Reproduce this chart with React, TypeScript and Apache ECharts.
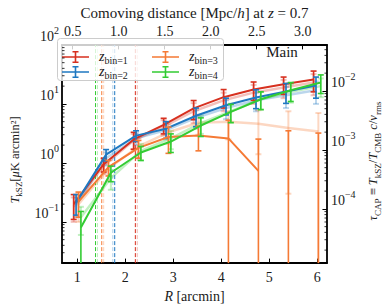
import React, { useEffect, useRef } from "react";
import * as echarts from "echarts";

// ---------- data ----------
const R_BINS = [1, 1.625, 2.25, 2.875, 3.5, 4.125, 4.75, 5.375, 6];

const BIN1 = [0.2, 0.95, 2.5, 4.4, 8.4, 13, 17.5, 21.5, 26];
const BIN1_ERR = [0.09, 0.25, 0.8, 1.3, 3, 4.5, 6, 7, 10];
const BIN2 = [0.21, 1.38, 2.9, 3.8, 6.3, 9.5, 12.8, 16.2, 20.5];
const BIN2_ERR = [0.08, 0.3, 0.6, 1.2, 2.2, 3, 4.5, 6, 8];
const BIN3 = [0.22, 0.85, 1.8, 2.75, 2.9, 2.6, 0.73, -0.4, -0.4];
const BIN3_ERR = [0.1, 0.25, 0.6, 1.3, 1.3, 2.7, 1.8, 3.9, 3.6];
const BIN4 = [0.08, 0.68, 1.5, 2.3, 4.3, 7.3, 12, 17, 23];
const BIN4_ERR = [0.07, 0.2, 0.4, 0.8, 1.5, 2.5, 4, 6, 8];

// faint (alternative sample) versions
const BIN1_ALT = [0.18, 0.9, 2.4, 4.1, 7.5, 11.5, 15.5, 19, 23];
const BIN1_ALT_ERR = [0.08, 0.25, 0.7, 1.2, 2.8, 4, 5.5, 6.5, 9];
const BIN2_ALT = [0.19, 1.2, 2.6, 3.6, 5.8, 8.5, 11.5, 14, 17];
const BIN2_ALT_ERR = [0.07, 0.3, 0.6, 1.1, 2, 3, 4, 5.5, 7];
const BIN3_ALT = [0.2, 0.8, 1.9, 3.3, 4.8, 5.0, 4.6, 3.9, 3.4];
const BIN3_ALT_ERR = [0.1, 0.3, 0.7, 1.2, 1.8, 2.5, 3.2, 3.6, 3.6];
const BIN4_ALT = [0.12, 0.55, 1.6, 2.6, 4.7, 7.5, 12, 16, 20];
const BIN4_ALT_ERR = [0.06, 0.2, 0.5, 0.9, 1.6, 2.6, 4, 5.5, 7];

// angular scale cuts (dashed lines), main and alternative
const CUT_MAIN = [2.21, 1.78, 1.51, 1.38];
const CUT_ALT = [2.25, 1.74, 1.55, 1.42];

const LEGEND_NAMES = ["bin1", "bin2", "bin3", "bin4"];
const LEGEND_LABELS = ["1", "2", "3", "4"];
const COLORS = ["#d7301f", "#1f78c1", "#f57a35", "#33cc33"];
const DODGE = [-0.075, -0.025, 0.025, 0.075];

const X_TICKS = [1, 2, 3, 4, 5, 6];
const TOP_TICKS = [0.5, 1.0, 1.5, 2.0, 2.5, 3.0];

// ---------- axis limits ----------
const R_MIN = 0.682;
const R_MAX = 6.204;
const D_MIN = 0.384;
const D_MAX = 3.264;
const T_MIN = 0.02;
const T_MAX = 100;
const TAU_FACTOR = 1660; // T_kSZ [muK arcmin^2] per unit tau

const FONT = "Liberation Serif";
const TXT = "#1a1a1a";

const minorLog = (lo: number, hi: number) => {
  const out: number[] = [];
  for (let d = Math.floor(Math.log10(lo)) - 1; d <= Math.ceil(Math.log10(hi)); d++) {
    for (let m = 2; m <= 9; m++) {
      const v = m * Math.pow(10, d);
      if (v > lo && v < hi) out.push(v);
    }
  }
  return out;
};

const powLabel = (v: number) => {
  const e = Math.log10(v);
  const r = Math.round(e);
  if (Math.abs(e - r) > 1e-6) return "";
  return `{b|10}{s|${r < 0 ? "\u2212" + -r : r}}`;
};

const powRich = {
  b: { fontSize: 14, fontFamily: FONT, color: TXT, lineHeight: 18, verticalAlign: "bottom" },
  s: { fontSize: 10, fontFamily: FONT, color: TXT, lineHeight: 10, verticalAlign: "top" },
};

const nameRich = (ns: number, ss = 10) => ({
  n: { fontSize: ns, fontFamily: FONT, color: TXT, lineHeight: ns + 3, verticalAlign: "top" },
  i: { fontSize: ns, fontFamily: FONT, fontStyle: "italic", color: TXT, lineHeight: ns + 3, verticalAlign: "top" },
  sub: { fontSize: ss, fontFamily: FONT, color: TXT, lineHeight: ss, verticalAlign: "bottom" },
});

function errorSeries(xs: number[], vals: number[], errs: number[], color: string, opacity: number, lw: number, z: number) {
  return {
    type: "custom",
    silent: true,
    xAxisIndex: 0,
    yAxisIndex: 0,
    z,
    clip: false,
    data: xs.map((x, i) => [x, Math.max(vals[i] - errs[i], 1e-9), vals[i] + errs[i]]),
    encode: { x: 0, y: [1, 2] },
    renderItem: (params: any, api: any) => {
      const x = api.value(0);
      const lo = api.value(1);
      const hi = api.value(2);
      const cs = params.coordSys;
      const bottom = cs.y + cs.height;
      const pHi = api.coord([x, hi]);
      const px = pHi[0];
      let yHi = pHi[1];
      let hiCap = true;
      if (yHi < cs.y) {
        yHi = cs.y;
        hiCap = false;
      }
      let yLo: number;
      let loCap = true;
      if (lo <= T_MIN) {
        yLo = bottom;
        loCap = false;
      } else {
        yLo = api.coord([x, lo])[1];
      }
      const style = { stroke: color, lineWidth: lw, opacity };
      const children: any[] = [{ type: "line", shape: { x1: px, y1: yHi, x2: px, y2: yLo }, style }];
      if (hiCap) children.push({ type: "line", shape: { x1: px - 3, y1: yHi, x2: px + 3, y2: yHi }, style });
      if (loCap) children.push({ type: "line", shape: { x1: px - 3, y1: yLo, x2: px + 3, y2: yLo }, style });
      return { type: "group", children };
    },
  };
}

function lineSeries(name: string, xs: number[], vals: number[], color: string, opacity: number, lw: number, z: number) {
  return {
    type: "line",
    name,
    xAxisIndex: 0,
    yAxisIndex: 0,
    z,
    symbol: "none",
    silent: true,
    itemStyle: { color },
    lineStyle: { color, width: lw, opacity },
    data: xs.map((x, i) => [x, vals[i] > 0 ? vals[i] : null]),
  };
}

// vertical dashed scale-cut line, drawn through the axes' own scales
function cutSeries(cut: number, color: string, opacity: number, z: number) {
  return {
    type: "custom",
    silent: true,
    xAxisIndex: 0,
    yAxisIndex: 0,
    z,
    clip: false,
    data: [[cut, T_MIN, T_MAX]],
    encode: { x: 0, y: [1, 2] },
    renderItem: (params: any, api: any) => {
      const p0 = api.coord([api.value(0), api.value(1)]);
      const p1 = api.coord([api.value(0), api.value(2)]);
      return {
        type: "line",
        shape: { x1: p0[0], y1: p0[1], x2: p1[0], y2: p1[1] },
        style: { stroke: color, lineWidth: 1, lineDash: [4, 2], opacity },
      };
    },
  };
}

function tickSeries(values: number[], yIdx: number, side: "left" | "right", len: number) {
  return {
    type: "custom",
    silent: true,
    xAxisIndex: 0,
    yAxisIndex: yIdx,
    z: 10,
    clip: false,
    data: values.map((v) => [R_MIN, v]),
    encode: { x: 0, y: 1 },
    renderItem: (params: any, api: any) => {
      const cs = params.coordSys;
      const y = api.coord([api.value(0), api.value(1)])[1];
      const x0 = side === "left" ? cs.x : cs.x + cs.width;
      const x1 = side === "left" ? cs.x + len : cs.x + cs.width - len;
      return { type: "line", shape: { x1: x0, y1: y, x2: x1, y2: y }, style: { stroke: "#000", lineWidth: 0.8 } };
    },
  };
}

const LEGEND_ICON =
  "path://M0 5.2H27V6.8H0Z M12.7 0H14.3V12H12.7Z M10.5 0H16.5V1.5H10.5Z M10.5 10.5H16.5V12H10.5Z";

const legendItem = (name: string, left: number, top: number) => ({
  data: [name],
  left,
  top,
  orient: "vertical",
  itemWidth: 27,
  itemHeight: 12,
  itemGap: 0,
  padding: 0,
  icon: LEGEND_ICON,
  itemStyle: { borderWidth: 0 },
  selectedMode: false,
  z: 5,
  formatter: (n: string) => `{z|z}{s|bin=${LEGEND_LABELS[LEGEND_NAMES.indexOf(n)]}}`,
  textStyle: {
    rich: {
      z: { fontSize: 14, fontFamily: FONT, fontStyle: "italic", color: TXT, lineHeight: 16, verticalAlign: "top", padding: [0, 0, 0, 5] },
      s: { fontSize: 10, fontFamily: FONT, color: TXT, lineHeight: 10, verticalAlign: "bottom" },
    },
  },
});

export default function App() {
  const ref = useRef<HTMLDivElement>(null);
  useEffect(() => {
    const chart = echarts.init(ref.current!, null, { renderer: "svg" });
    const mains = [BIN1, BIN2, BIN3, BIN4];
    const mainErr = [BIN1_ERR, BIN2_ERR, BIN3_ERR, BIN4_ERR];
    const alts = [BIN1_ALT, BIN2_ALT, BIN3_ALT, BIN4_ALT];
    const altErr = [BIN1_ALT_ERR, BIN2_ALT_ERR, BIN3_ALT_ERR, BIN4_ALT_ERR];

    const series: any[] = [];
    alts.forEach((vals, k) => {
      const xs = R_BINS.map((r) => r + DODGE[k]);
      series.push(cutSeries(CUT_ALT[k], COLORS[k], 0.35, 1.5));
      series.push(lineSeries("alt" + k, xs, vals, COLORS[k], 0.3, 2.5, 2));
      series.push(errorSeries(xs, vals, altErr[k], COLORS[k], 0.3, 2, 2));
    });
    mains.forEach((vals, k) => {
      const xs = R_BINS.map((r) => r + DODGE[k]);
      series.push(cutSeries(CUT_MAIN[k], COLORS[k], 1, 2.5));
      series.push(lineSeries(LEGEND_NAMES[k], xs, vals, COLORS[k], 1, 2, 3 + k * 0.1));
      series.push(errorSeries(xs, vals, mainErr[k], COLORS[k], 1, 1.6, 3 + k * 0.1));
    });
    series.push(tickSeries(minorLog(T_MIN, T_MAX), 0, "left", 2.5));
    series.push(tickSeries(minorLog(T_MIN / TAU_FACTOR, T_MAX / TAU_FACTOR), 1, "right", 2.5));

    const axisLine = { show: true, onZero: false, lineStyle: { color: "#000", width: 1.8 } };
    const majorTick = { show: true, inside: true, length: 4.5, lineStyle: { color: "#000", width: 1 } };

    const option: any = {
      animation: false,
      backgroundColor: "#fff",
      grid: { left: 50, right: 50, top: 32, bottom: 36, containLabel: false },
      xAxis: [
        {
          type: "value",
          position: "bottom",
          min: R_MIN,
          max: R_MAX,
          axisLine,
          axisTick: { ...majorTick, customValues: X_TICKS },
          axisLabel: { customValues: X_TICKS, margin: 7, fontSize: 14, fontFamily: FONT, color: TXT, formatter: (v: number) => String(v) },
          splitLine: { show: false },
          name: "{i|R}{n| [arcmin]}",
          nameLocation: "middle",
          nameGap: 19,
          nameTextStyle: { rich: nameRich(14) },
        },
        {
          type: "value",
          position: "top",
          min: D_MIN,
          max: D_MAX,
          axisLine,
          axisTick: { ...majorTick, customValues: TOP_TICKS },
          axisLabel: { customValues: TOP_TICKS, margin: 6, fontSize: 14, fontFamily: FONT, color: TXT, formatter: (v: number) => v.toFixed(1) },
          splitLine: { show: false },
          name: "{n|Comoving distance [Mpc/}{i|h}{n|] at }{i|z}{n| = 0.7}",
          nameLocation: "middle",
          nameGap: 20,
          nameTextStyle: { rich: nameRich(15) },
        },
      ],
      yAxis: [
        {
          type: "log",
          logBase: 10,
          position: "left",
          min: T_MIN,
          max: T_MAX,
          axisLine,
          axisTick: majorTick,
          axisLabel: { margin: 3, formatter: powLabel, rich: powRich, padding: [0, 0, 20, 0] },
          splitLine: { show: false },
          name: "{i|T}{sub|kSZ}{n|[}{i|\u03bc}{n|K arcmin\u00b2]}",
          nameLocation: "middle",
          nameRotate: 90,
          nameGap: 30,
          nameTextStyle: { rich: nameRich(12.5, 9), padding: [0, 12, 0, 0] },
        },
        {
          type: "log",
          logBase: 10,
          position: "right",
          min: T_MIN / TAU_FACTOR,
          max: T_MAX / TAU_FACTOR,
          axisLine,
          axisTick: majorTick,
          axisLabel: { margin: 4, formatter: powLabel, rich: powRich, padding: [0, 0, 20, 0] },
          splitLine: { show: false },
          name: "{i|\u03c4}{sub|CAP}{n| \u2261 }{i|T}{sub|kSZ}{n|/}{i|T}{sub|CMB}{n| }{i|c}{n|/}{i|v}{sub|rms}",
          nameLocation: "middle",
          nameRotate: 90,
          nameGap: 35,
          nameTextStyle: { rich: nameRich(12.5, 9), padding: [0, 14, 0, 0] },
        },
      ],
      legend: [
        legendItem(LEGEND_NAMES[0], 62, 49),
        legendItem(LEGEND_NAMES[1], 62, 64),
        legendItem(LEGEND_NAMES[2], 152, 49),
        legendItem(LEGEND_NAMES[3], 152, 64),
      ],
      graphic: [
        {
          type: "rect",
          z: 4,
          shape: { x: 57.5, y: 38.5, width: 166, height: 42, r: 3 },
          style: { fill: "rgba(255,255,255,0.8)", stroke: "#cccccc", lineWidth: 1 },
        },
        {
          type: "text",
          z: 4,
          x: 282,
          y: 52,
          style: { text: "Main", fontSize: 15, fontFamily: FONT, fill: TXT, align: "center", verticalAlign: "middle" },
        },
      ],
      series,
    };
    chart.setOption(option);
    return () => chart.dispose();
  }, []);
  return <div ref={ref} style={{ position: "fixed", left: 0, top: 0, width: 390, height: 308, background: "#fff" }} />;
}
